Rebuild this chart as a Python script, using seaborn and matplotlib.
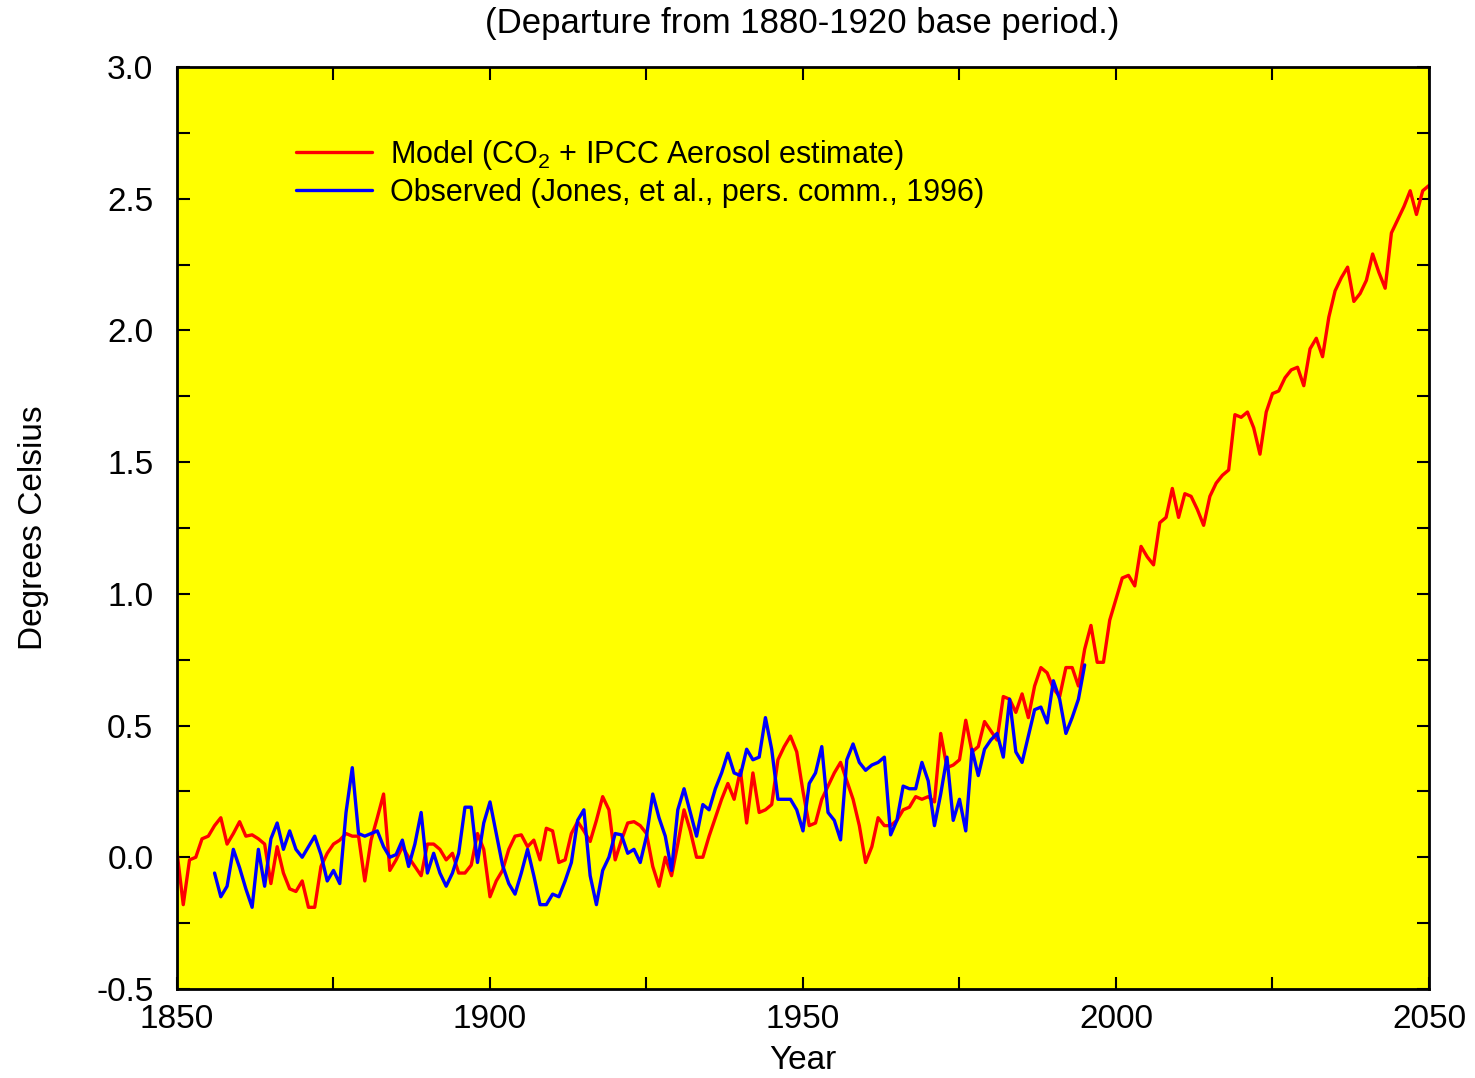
import numpy as np
import pandas as pd
import matplotlib
matplotlib.use("Agg")
import matplotlib.pyplot as plt
from matplotlib.ticker import MultipleLocator, FormatStrFormatter
import seaborn as sns

# --- dados (anomalia em °C, base 1880-1920) ---
model_years = np.arange(1850, 2051)
model_vals = [
    0.02, -0.18, -0.01, 0.00, 0.07, 0.08, 0.12, 0.15, 0.05, 0.09,      # 1850
    0.135, 0.08, 0.085, 0.07, 0.05, -0.10, 0.04, -0.06, -0.12, -0.13,  # 1860
    -0.09, -0.19, -0.19, -0.035, 0.015, 0.05, 0.065, 0.09, 0.08, 0.08, # 1870
    -0.09, 0.065, 0.15, 0.24, -0.05, -0.01, 0.04, 0.00, -0.035, -0.07, # 1880
    0.05, 0.05, 0.03, -0.01, 0.015, -0.06, -0.06, -0.03, 0.09, 0.03,   # 1890
    -0.15, -0.09, -0.05, 0.03, 0.08, 0.085, 0.04, 0.065, -0.01, 0.11,  # 1900
    0.10, -0.02, -0.01, 0.09, 0.135, 0.10, 0.06, 0.14, 0.23, 0.18,     # 1910
    -0.01, 0.065, 0.13, 0.135, 0.12, 0.09, -0.035, -0.11, 0.00, -0.07, # 1920
    0.05, 0.18, 0.10, 0.00, 0.00, 0.08, 0.15, 0.22, 0.28, 0.22,        # 1930
    0.33, 0.13, 0.32, 0.17, 0.18, 0.20, 0.37, 0.42, 0.46, 0.40,        # 1940
    0.25, 0.12, 0.13, 0.22, 0.27, 0.32, 0.36, 0.29, 0.22, 0.12,        # 1950
    -0.02, 0.04, 0.15, 0.12, 0.12, 0.14, 0.18, 0.19, 0.23, 0.22,       # 1960
    0.23, 0.21, 0.47, 0.34, 0.35, 0.37, 0.52, 0.40, 0.42, 0.515,       # 1970
    0.48, 0.445, 0.61, 0.60, 0.55, 0.62, 0.53, 0.65, 0.72, 0.70,       # 1980
    0.64, 0.61, 0.72, 0.72, 0.65, 0.79, 0.88, 0.74, 0.74, 0.90,        # 1990
    0.98, 1.06, 1.07, 1.03, 1.18, 1.14, 1.11, 1.27, 1.29, 1.40,        # 2000
    1.29, 1.38, 1.37, 1.32, 1.26, 1.37, 1.42, 1.45, 1.47, 1.68,        # 2010
    1.67, 1.69, 1.63, 1.53, 1.69, 1.76, 1.77, 1.82, 1.85, 1.86,        # 2020
    1.79, 1.93, 1.97, 1.90, 2.05, 2.15, 2.20, 2.24, 2.11, 2.14,        # 2030
    2.19, 2.29, 2.22, 2.16, 2.37, 2.42, 2.47, 2.53, 2.44, 2.53,        # 2040
    2.55,                                                              # 2050
]

obs_years = np.arange(1856, 1996)
obs_vals = [
    -0.06, -0.15, -0.11, 0.03,                                         # 1856
    -0.04, -0.12, -0.19, 0.03, -0.11, 0.07, 0.13, 0.03, 0.10, 0.03,    # 1860
    0.00, 0.04, 0.08, 0.01, -0.09, -0.05, -0.10, 0.17, 0.34, 0.09,     # 1870
    0.08, 0.09, 0.10, 0.04, 0.00, 0.01, 0.065, -0.035, 0.05, 0.17,     # 1880
    -0.06, 0.015, -0.06, -0.11, -0.06, 0.015, 0.19, 0.19, -0.02, 0.13, # 1890
    0.21, 0.09, -0.03, -0.10, -0.14, -0.06, 0.03, -0.07, -0.18, -0.18, # 1900
    -0.14, -0.15, -0.09, -0.02, 0.14, 0.18, -0.07, -0.18, -0.05, 0.00, # 1910
    0.09, 0.085, 0.015, 0.03, -0.02, 0.08, 0.24, 0.15, 0.08, -0.05,    # 1920
    0.18, 0.26, 0.17, 0.08, 0.20, 0.18, 0.26, 0.32, 0.395, 0.32,       # 1930
    0.31, 0.41, 0.37, 0.38, 0.53, 0.41, 0.22, 0.22, 0.22, 0.18,        # 1940
    0.10, 0.28, 0.32, 0.42, 0.17, 0.14, 0.066, 0.37, 0.43, 0.36,       # 1950
    0.33, 0.35, 0.36, 0.38, 0.085, 0.14, 0.27, 0.26, 0.26, 0.36,       # 1960
    0.29, 0.12, 0.24, 0.38, 0.14, 0.22, 0.10, 0.41, 0.31, 0.41,        # 1970
    0.445, 0.47, 0.38, 0.60, 0.40, 0.36, 0.46, 0.56, 0.57, 0.51,       # 1980
    0.67, 0.60, 0.47, 0.53, 0.60, 0.73,                                # 1990
]

model_label = r"Model (CO$_2$ + IPCC Aerosol estimate)"
obs_label = "Observed (Jones, et al., pers. comm., 1996)"

df_model = pd.DataFrame({"Year": model_years, "Temp": model_vals})
df_obs = pd.DataFrame({"Year": obs_years, "Temp": obs_vals})

sns.set_style("white")
plt.rcParams["font.family"] = ["Liberation Sans", "DejaVu Sans"]
plt.rcParams["mathtext.fontset"] = "custom"
plt.rcParams["mathtext.rm"] = "Liberation Sans"
plt.rcParams["mathtext.it"] = "Liberation Sans"
plt.rcParams["text.color"] = "black"
plt.rcParams["axes.labelcolor"] = "black"

fig = plt.figure(figsize=(14.75, 10.78), dpi=100)
ax = fig.add_axes([0.12, 0.0826, 0.8488, 0.8553])
ax.set_facecolor("#ffff00")

sns.lineplot(data=df_model, x="Year", y="Temp", color="#ff0000",
             linewidth=2.4, ax=ax, label=model_label)
sns.lineplot(data=df_obs, x="Year", y="Temp", color="#0000ff",
             linewidth=2.4, ax=ax, label=obs_label)

ax.set_xlim(1850, 2050)
ax.set_ylim(-0.5, 3.0)
ax.xaxis.set_major_locator(MultipleLocator(50))
ax.xaxis.set_minor_locator(MultipleLocator(25))
ax.yaxis.set_major_locator(MultipleLocator(0.5))
ax.yaxis.set_minor_locator(MultipleLocator(0.25))
ax.yaxis.set_major_formatter(FormatStrFormatter("%.1f"))
ax.tick_params(which="both", direction="in", length=9, width=1.5,
               top=True, right=True, bottom=True, left=True,
               labelsize=24, colors="black")
ax.tick_params(axis="y", pad=17)
ax.tick_params(axis="x", pad=11)
for s in ax.spines.values():
    s.set_color("black")
    s.set_linewidth(2)

ax.set_xlabel("Year", fontsize=24, labelpad=7)
ax.set_ylabel("Degrees Celsius", fontsize=24, labelpad=34)
fig.text(0.544, 0.978, "(Departure from 1880-1920 base period.)",
         ha="center", va="center", fontsize=25)

leg = ax.legend(loc="upper left", bbox_to_anchor=(0.085, 0.936), frameon=False,
                fontsize=22, handlelength=2.5, handletextpad=0.6,
                labelspacing=0.18, borderaxespad=0)

fig.savefig("out.png", dpi=100)
